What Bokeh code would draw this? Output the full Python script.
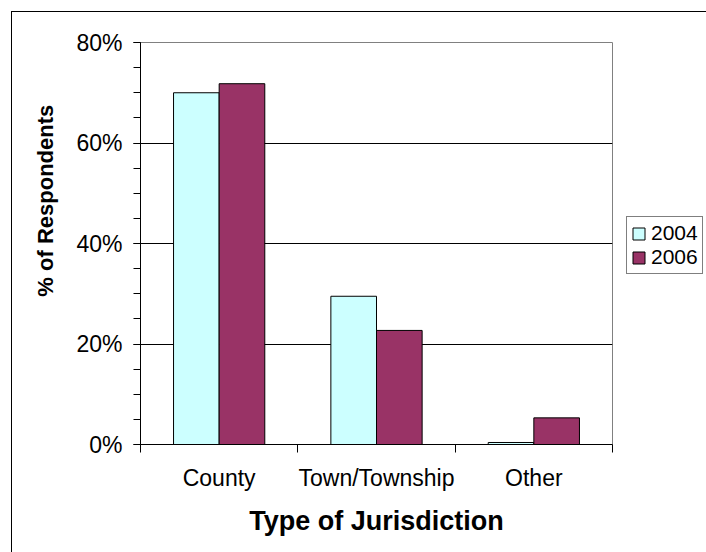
from bokeh.plotting import figure
from bokeh.layouts import row
from bokeh.models import (ColumnDataSource, Range1d, FixedTicker, PrintfTickFormatter,
                          Legend, LegendItem)
from bokeh.transform import dodge
from bokeh.embed import file_html
from bokeh.resources import INLINE

categories = ["County", "Town/Township", "Other"]
series_names = ["2004", "2006"]
values_2004 = [70.0, 29.5, 0.4]
values_2006 = [71.8, 22.7, 5.3]
y_ticks = [0, 20, 40, 60, 80]

FONT = "Liberation Sans"
C2004 = "#CCFFFF"
C2006 = "#993366"

src = ColumnDataSource(dict(
    pos=[i + 0.5 for i in range(len(categories))],
    v2004=values_2004,
    v2006=values_2006,
))

p = figure(width=602, height=540, output_backend="svg", toolbar_location=None,
           x_range=Range1d(0, len(categories)), y_range=Range1d(0, 80),
           min_border_left=128, min_border_top=30, min_border_right=2, min_border_bottom=108)

p.background_fill_color = "white"
p.border_fill_color = "white"
p.outline_line_color = "#808080"
p.outline_line_width = 1

r1 = p.vbar(x=dodge("pos", -0.145, range=p.x_range), top="v2004", width=0.29, bottom=0,
            source=src, fill_color=C2004, line_color="black", line_width=1)
r2 = p.vbar(x=dodge("pos", 0.145, range=p.x_range), top="v2006", width=0.29, bottom=0,
            source=src, fill_color=C2006, line_color="black", line_width=1)

# x axis
p.xgrid.visible = False
xa = p.xaxis[0]
xa.ticker = FixedTicker(ticks=[i + 0.5 for i in range(len(categories))],
                        minor_ticks=list(range(len(categories) + 1)))
xa.major_label_overrides = {i + 0.5: c for i, c in enumerate(categories)}
xa.major_tick_out = 0
xa.major_tick_in = 0
xa.minor_tick_out = 8
xa.minor_tick_in = 0
xa.minor_tick_line_color = "black"
xa.axis_line_color = "black"
xa.major_label_text_font = FONT
xa.major_label_text_font_size = "23px"
xa.major_label_text_color = "black"
xa.major_label_standoff = 12
xa.axis_label = "Type of Jurisdiction"
xa.axis_label_text_font = FONT
xa.axis_label_text_font_style = "bold"
xa.axis_label_text_font_size = "27px"
xa.axis_label_text_color = "black"
xa.axis_label_standoff = 12

# y axis
ya = p.yaxis[0]
ya.ticker = FixedTicker(ticks=y_ticks, minor_ticks=list(range(0, 81, 5)))
ya.formatter = PrintfTickFormatter(format="%d%%")
ya.major_tick_out = 7
ya.major_tick_in = 0
ya.minor_tick_out = 7
ya.minor_tick_in = 0
ya.major_tick_line_color = "black"
ya.minor_tick_line_color = "black"
ya.axis_line_color = "black"
ya.major_label_text_font = FONT
ya.major_label_text_font_size = "23px"
ya.major_label_text_color = "black"
ya.major_label_standoff = 11
ya.axis_label = "\u00a0" * 14 + "% of Respondents"
ya.axis_label_text_font = FONT
ya.axis_label_text_font_style = "bold"
ya.axis_label_text_font_size = "22px"
ya.axis_label_text_color = "black"
ya.axis_label_standoff = 15

p.ygrid.ticker = FixedTicker(ticks=y_ticks[1:-1])
p.ygrid.grid_line_color = "black"
p.ygrid.grid_line_width = 1

# legend panel (separate figure to the right of the plot area)
p2 = figure(width=92, height=540, output_backend="svg", toolbar_location=None,
            x_range=Range1d(0, 1), y_range=Range1d(0, 1),
            x_axis_type=None, y_axis_type=None,
            min_border_left=0, min_border_right=0, min_border_top=0, min_border_bottom=0)
p2.outline_line_color = None
p2.background_fill_color = "white"
p2.border_fill_color = "white"
p2.grid.visible = False
k1 = p2.vbar(x="pos", top="v2004", width=0.29, source=src,
             fill_color=C2004, line_color="black", line_width=1)
k2 = p2.vbar(x="pos", top="v2006", width=0.29, source=src,
             fill_color=C2006, line_color="black", line_width=1)
k1.visible = False
k2.visible = False

legend = Legend(items=[LegendItem(label=series_names[0], renderers=[k1]),
                       LegendItem(label=series_names[1], renderers=[k2])],
                location=(12, 170))
legend.border_line_color = "black"
legend.border_line_width = 1
legend.background_fill_color = "white"
legend.background_fill_alpha = 1
legend.inactive_fill_alpha = 0
legend.label_text_font = FONT
legend.label_text_font_size = "21px"
legend.label_text_color = "black"
legend.glyph_width = 15
legend.glyph_height = 15
legend.label_standoff = 5
legend.spacing = -8
legend.padding = 4
legend.margin = 0
legend.label_height = 19
p2.add_layout(legend, "center")

layout = row(p, p2, spacing=0)
layout.styles = {"border-left": "1px solid #000000", "border-top": "1px solid #000000",
                 "margin-left": "11px", "margin-top": "11px"}

open("out.html", "w").write(file_html(layout, INLINE))
